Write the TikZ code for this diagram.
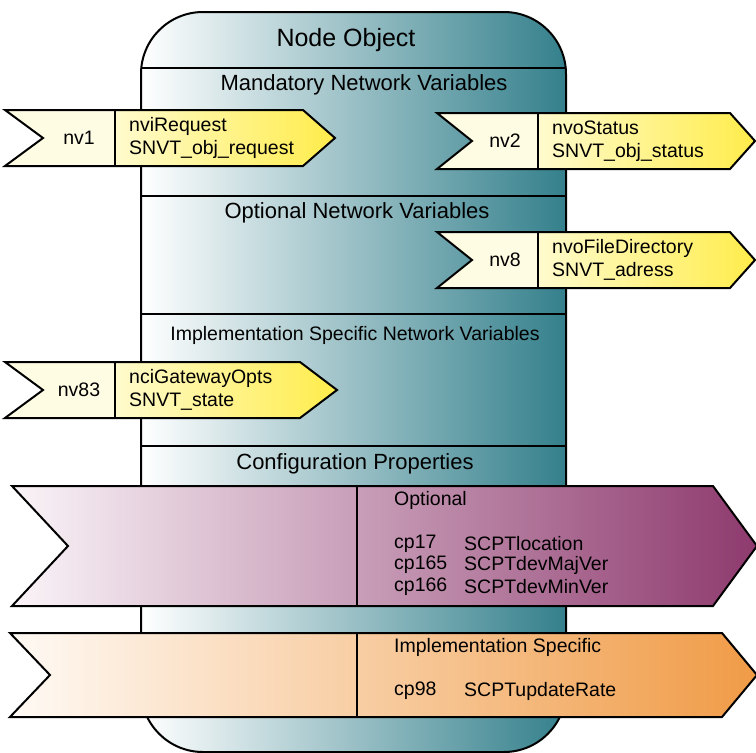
\documentclass[tikz,border=0pt]{standalone}
\usepackage{fontspec}
\setmainfont{Liberation Sans}
\definecolor{nodeteal}{RGB}{52,128,140}
\definecolor{nvcream}{RGB}{255,252,228}
\definecolor{nvlight}{RGB}{255,251,205}
\definecolor{nvyellow}{RGB}{255,236,75}
\definecolor{cplight}{RGB}{250,244,248}
\definecolor{cppurple}{RGB}{142,58,110}
\definecolor{oplight}{RGB}{255,250,245}
\definecolor{oporange}{RGB}{240,155,70}
\tikzset{
	outline/.style={draw=black, line width=2pt},
	titletext/.style={font=\fontsize{25}{30}\selectfont, inner sep=0pt},
	hdr/.style={font=\fontsize{22}{26}\selectfont, inner sep=0pt},
	lbl/.style={font=\fontsize{19.5}{23}\selectfont, inner sep=0pt},
}
\begin{document}
\begin{tikzpicture}[x=1pt, y=-1pt]
		\useasboundingbox (0,0) rectangle (756,753);
		% node object
		\draw [outline, left color=white, right color=nodeteal, rounded corners=62pt] (141,12) rectangle (566,752);
		\foreach \y in {68,196,314,446}{
				\draw [outline] (141,\y) -- (566,\y);
			}
		\node [titletext] (title) at (346,40) {Node Object};
		\node [hdr] (mandatory) at (364,85) {Mandatory Network Variables};
		\node [hdr] (optional) at (357,213) {Optional Network Variables};
		\node [lbl] (implspec) at (355,335) {Implementation Specific Network Variables};
		\node [hdr] (config) at (355,464) {Configuration Properties};
		% network variables
		\foreach \l/\n/\d/\s/\t/\y/\id/\nm/\ty in {5/43/115/303/335/110/nv1/nviRequest/SNVT\_obj\_request,
				437/472/538/730/755/113/nv2/nvoStatus/SNVT\_obj\_status,
				437/472/538/730/755/232/nv8/nvoFileDirectory/SNVT\_adress,
				5/43/115/300/337/362/nv83/nciGatewayOpts/SNVT\_state}{
				\fill [nvcream] (\l,\y) -- (\d,\y) -- (\d,\y+56) -- (\l,\y+56) -- (\n,\y+28) -- cycle;
				\shade [left color=nvlight, right color=nvyellow] (\d,\y) -- (\s,\y) -- (\t,\y+28) -- (\s,\y+56) -- (\d,\y+56) -- cycle;
				\draw [outline] (\l,\y) -- (\s,\y) -- (\t,\y+28) -- (\s,\y+56) -- (\l,\y+56) -- (\n,\y+28) -- cycle;
				\draw [outline] (\d,\y) -- (\d,\y+56);
				\node [lbl] (\id) at ({(\n+\d)/2},\y+28) {\id};
				\node [lbl, anchor=west, align=left] (\id text) at (\d+14,\y+28) {\nm\\\ty};
			}
		% configuration properties
		\draw [outline, left color=cplight, right color=cppurple] (12,486) -- (713,486) -- (757,546) -- (713,606) -- (12,606) -- (68,546) -- cycle;
		\draw [outline] (357,486) -- (357,606);
		\node [lbl, anchor=west] (cpopt) at (394,500) {Optional};
		\foreach \c/\p/\y in {cp17/SCPTlocation/544, cp165/SCPTdevMajVer/565, cp166/SCPTdevMinVer/587}{
				\node [lbl, anchor=west] (\c) at (394,\y) {\c};
				\node [lbl, anchor=west] (\c type) at (464,\y) {\p};
			}
		\draw [outline, left color=oplight, right color=oporange] (10,633) -- (722,633) -- (757,675) -- (722,717) -- (10,717) -- (50,675) -- cycle;
		\draw [outline] (357,633) -- (357,717);
		\node [lbl, anchor=west] (cpimpl) at (394,647) {Implementation Specific};
		\node [lbl, anchor=west] (cp98) at (394,691) {cp98};
		\node [lbl, anchor=west] (cp98 type) at (464,691) {SCPTupdateRate};
	\end{tikzpicture}
\end{document}
